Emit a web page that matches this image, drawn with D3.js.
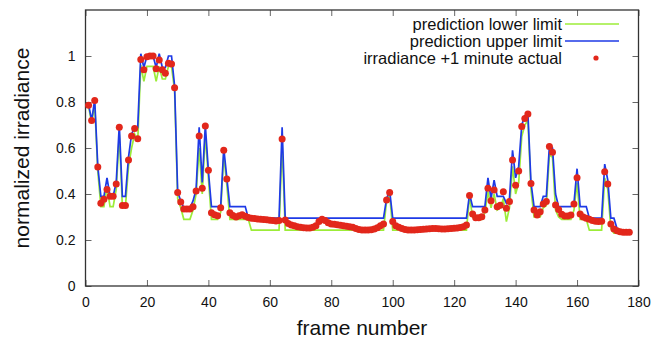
<!DOCTYPE html>
<html>
<head>
<meta charset="utf-8">
<script src="https://cdn.jsdelivr.net/npm/d3@7"></script>
<style>
  body { margin: 0; background: #fff; }
  svg { font-family: "Liberation Sans", Arial, sans-serif; }
</style>
</head>
<body>
<div id="chart"></div>
<script>
// frame numbers 1..177
const firstFrame = 1;

const actual = [
  0.786, 0.72, 0.806, 0.517, 0.36, 0.377, 0.42, 0.39, 0.39, 0.443,
  0.69, 0.35, 0.35, 0.548, 0.652, 0.685, 0.64, 0.985, 0.94, 0.997,
  1.0, 1.0, 0.945, 0.983, 0.94, 0.925, 0.968, 0.965, 0.862, 0.407,
  0.365, 0.335, 0.335, 0.335, 0.345, 0.413, 0.652, 0.425, 0.696, 0.503,
  0.319, 0.31, 0.305, 0.34, 0.59, 0.465, 0.319, 0.306, 0.30, 0.305,
  0.31, 0.303, 0.298, 0.295, 0.293, 0.291, 0.29, 0.289, 0.288, 0.286,
  0.285, 0.283, 0.285, 0.639, 0.287, 0.272, 0.265, 0.262, 0.258, 0.255,
  0.253, 0.252, 0.252, 0.255, 0.262, 0.28, 0.29, 0.285, 0.275, 0.27,
  0.268, 0.266, 0.264, 0.262, 0.26, 0.258, 0.255, 0.25, 0.246, 0.244,
  0.243, 0.243, 0.245, 0.248, 0.253, 0.262, 0.27, 0.374, 0.406, 0.28,
  0.262, 0.255, 0.25, 0.246, 0.243, 0.243, 0.244, 0.245, 0.246, 0.247,
  0.248, 0.249, 0.25, 0.25, 0.249, 0.248, 0.248, 0.249, 0.25, 0.251,
  0.252, 0.254, 0.258, 0.265, 0.394, 0.313, 0.297, 0.297, 0.301, 0.33,
  0.425, 0.371, 0.417, 0.345, 0.351, 0.41, 0.338, 0.367, 0.548, 0.438,
  0.50, 0.693, 0.728, 0.748, 0.446, 0.33, 0.309, 0.323, 0.357, 0.367,
  0.606, 0.581, 0.352, 0.333, 0.312, 0.304, 0.304, 0.309, 0.357, 0.471,
  0.313, 0.30, 0.295, 0.29, 0.285, 0.282, 0.28, 0.282, 0.497, 0.443,
  0.27, 0.248, 0.24, 0.236, 0.234, 0.234, 0.234
];

const upper = [
  0.79, 0.72, 0.81, 0.52, 0.39, 0.39, 0.47, 0.39, 0.39, 0.45,
  0.70, 0.39, 0.39, 0.56, 0.66, 0.69, 0.69, 1.01, 0.95, 1.00,
  1.00, 1.00, 0.95, 1.01, 0.95, 0.95, 1.00, 1.00, 0.87, 0.41,
  0.37, 0.34, 0.34, 0.34, 0.37, 0.42, 0.69, 0.45, 0.70, 0.50,
  0.345, 0.345, 0.345, 0.345, 0.60, 0.47, 0.345, 0.345, 0.345, 0.345,
  0.345, 0.345, 0.295, 0.295, 0.295, 0.295, 0.295, 0.295, 0.295, 0.295,
  0.295, 0.295, 0.295, 0.69, 0.295, 0.295, 0.295, 0.295, 0.295, 0.295,
  0.295, 0.295, 0.295, 0.295, 0.295, 0.295, 0.295, 0.295, 0.295, 0.295,
  0.295, 0.295, 0.295, 0.295, 0.295, 0.295, 0.295, 0.295, 0.295, 0.295,
  0.295, 0.295, 0.295, 0.295, 0.295, 0.295, 0.295, 0.38, 0.415, 0.295,
  0.295, 0.295, 0.295, 0.295, 0.295, 0.295, 0.295, 0.295, 0.295, 0.295,
  0.295, 0.295, 0.295, 0.295, 0.295, 0.295, 0.295, 0.295, 0.295, 0.295,
  0.295, 0.295, 0.295, 0.295, 0.40, 0.345, 0.345, 0.345, 0.345, 0.345,
  0.47, 0.38, 0.46, 0.39, 0.39, 0.39, 0.36, 0.38, 0.59, 0.47,
  0.52, 0.70, 0.74, 0.75, 0.45, 0.345, 0.345, 0.345, 0.39, 0.39,
  0.61, 0.60, 0.40, 0.345, 0.345, 0.345, 0.345, 0.345, 0.36, 0.51,
  0.345, 0.345, 0.345, 0.295, 0.295, 0.295, 0.295, 0.295, 0.53, 0.46,
  0.295, 0.295, 0.25, 0.24, 0.24, 0.24, 0.24
];

const lower = [
  0.78, 0.71, 0.79, 0.50, 0.345, 0.345, 0.43, 0.345, 0.345, 0.42,
  0.66, 0.345, 0.345, 0.52, 0.60, 0.66, 0.63, 0.96, 0.89, 0.955,
  0.955, 0.955, 0.89, 0.955, 0.90, 0.90, 0.955, 0.955, 0.85, 0.38,
  0.34, 0.29, 0.29, 0.29, 0.33, 0.40, 0.60, 0.40, 0.66, 0.47,
  0.29, 0.29, 0.29, 0.32, 0.57, 0.44, 0.29, 0.29, 0.29, 0.29,
  0.29, 0.29, 0.29, 0.243, 0.243, 0.243, 0.243, 0.243, 0.243, 0.243,
  0.243, 0.243, 0.243, 0.62, 0.243, 0.243, 0.243, 0.243, 0.243, 0.243,
  0.243, 0.243, 0.243, 0.243, 0.243, 0.243, 0.243, 0.243, 0.243, 0.243,
  0.243, 0.243, 0.243, 0.243, 0.243, 0.243, 0.243, 0.243, 0.243, 0.243,
  0.243, 0.243, 0.243, 0.243, 0.243, 0.243, 0.243, 0.37, 0.40, 0.243,
  0.243, 0.243, 0.243, 0.243, 0.243, 0.243, 0.243, 0.243, 0.243, 0.243,
  0.243, 0.243, 0.243, 0.243, 0.243, 0.243, 0.243, 0.243, 0.243, 0.243,
  0.243, 0.243, 0.243, 0.243, 0.39, 0.30, 0.29, 0.29, 0.29, 0.32,
  0.41, 0.34, 0.40, 0.33, 0.34, 0.38, 0.28, 0.34, 0.52, 0.40,
  0.45, 0.65, 0.70, 0.72, 0.42, 0.30, 0.30, 0.30, 0.34, 0.35,
  0.57, 0.56, 0.33, 0.30, 0.29, 0.29, 0.29, 0.29, 0.33, 0.45,
  0.29, 0.29, 0.29, 0.243, 0.243, 0.243, 0.243, 0.243, 0.47, 0.42,
  0.25, 0.23, 0.23, 0.23, 0.23, 0.23, 0.23
];

const xTicks = [0, 20, 40, 60, 80, 100, 120, 140, 160, 180];
const yTicks = [0, 0.2, 0.4, 0.6, 0.8, 1];

const seriesNames = ['prediction lower limit', 'prediction upper limit', 'irradiance +1 minute actual'];
const seriesColors = ['#9cec38', '#1e3ae6', '#e2271b'];

const width = 656, height = 343;
const margin = { top: 10, right: 17.5, bottom: 57, left: 85.5 };
const innerW = width - margin.left - margin.right;
const innerH = height - margin.top - margin.bottom;

const svg = d3.select('#chart').append('svg')
  .attr('width', width)
  .attr('height', height);

const g = svg.append('g')
  .attr('transform', `translate(${margin.left},${margin.top})`);

const x = d3.scaleLinear().domain([0, 180]).range([0, innerW]);
const y = d3.scaleLinear().domain([0, 1.2]).range([innerH, 0]);

const frames = actual.map((d, i) => firstFrame + i);

// axes (ticks point inward, mirrored on top/right like gnuplot)
const styleAxis = sel => {
  sel.selectAll('.domain').remove();
  sel.selectAll('.tick line').attr('stroke', '#666');
  sel.selectAll('text').attr('font-size', 14).attr('fill', '#111');
};

g.append('g')
  .attr('transform', `translate(0,${innerH})`)
  .call(d3.axisBottom(x).tickValues(xTicks).tickSizeInner(-6).tickSizeOuter(0).tickPadding(11))
  .call(styleAxis);

g.append('g')
  .call(d3.axisLeft(y).tickValues(yTicks).tickFormat(d3.format('')).tickSizeInner(-6).tickSizeOuter(0).tickPadding(10))
  .call(styleAxis);

g.append('g')
  .call(d3.axisTop(x).tickValues(xTicks).tickSizeInner(-6).tickSizeOuter(0).tickFormat(''))
  .call(styleAxis);

g.append('g')
  .attr('transform', `translate(${innerW},0)`)
  .call(d3.axisRight(y).tickValues(yTicks).tickSizeInner(-6).tickSizeOuter(0).tickFormat(''))
  .call(styleAxis);

g.append('rect')
  .attr('width', innerW)
  .attr('height', innerH)
  .attr('fill', 'none')
  .attr('stroke', '#333')
  .attr('stroke-width', 1.3);

// lines
const line = d3.line()
  .x((d, i) => x(frames[i]))
  .y(d => y(d));

g.append('path')
  .datum(lower)
  .attr('d', line)
  .attr('fill', 'none')
  .attr('stroke', seriesColors[0])
  .attr('stroke-width', 1.7);

g.append('path')
  .datum(upper)
  .attr('d', line)
  .attr('fill', 'none')
  .attr('stroke', seriesColors[1])
  .attr('stroke-width', 1.7);

// actual points
g.selectAll('circle.pt')
  .data(actual)
  .enter()
  .append('circle')
  .attr('class', 'pt')
  .attr('cx', (d, i) => x(frames[i]))
  .attr('cy', d => y(d))
  .attr('r', 3.5)
  .attr('fill', seriesColors[2]);

// legend
const legend = svg.append('g');
const legY = [24, 41, 58];
seriesNames.forEach((name, i) => {
  legend.append('text')
    .attr('x', 562)
    .attr('y', legY[i])
    .attr('dy', '0.35em')
    .attr('text-anchor', 'end')
    .attr('font-size', 16.5)
    .attr('fill', '#111')
    .text(name);
  if (i < 2) {
    legend.append('line')
      .attr('x1', 565).attr('x2', 619)
      .attr('y1', legY[i]).attr('y2', legY[i])
      .attr('stroke', seriesColors[i])
      .attr('stroke-width', 1.7);
  } else {
    legend.append('circle')
      .attr('cx', 596).attr('cy', legY[i])
      .attr('r', 2.6)
      .attr('fill', seriesColors[i]);
  }
});

// axis titles
svg.append('text')
  .attr('x', margin.left + innerW / 2)
  .attr('y', 335)
  .attr('text-anchor', 'middle')
  .attr('font-size', 21)
  .attr('fill', '#111')
  .text('frame number');

svg.append('text')
  .attr('transform', `translate(29,${margin.top + innerH / 2}) rotate(-90)`)
  .attr('text-anchor', 'middle')
  .attr('font-size', 21)
  .attr('fill', '#111')
  .text('normalized irradiance');
</script>
</body>
</html>
